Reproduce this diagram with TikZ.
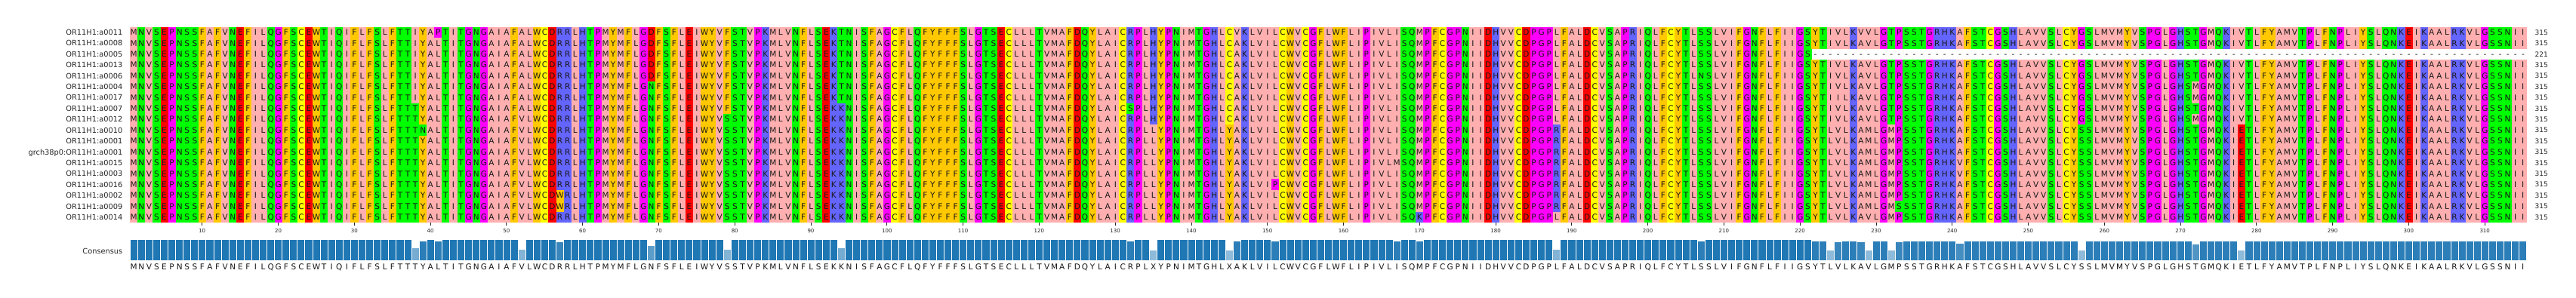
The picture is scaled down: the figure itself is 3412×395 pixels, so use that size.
\documentclass[tikz,border=0pt]{standalone}
\usepackage{fontspec}
\setmainfont{DejaVu Sans}
\usepackage{xcolor}
\usepackage{tikz}

% residue classes
\definecolor{aliphatic}{HTML}{FFAFAF}
\definecolor{aromatic}{HTML}{FFC800}
\definecolor{positive}{HTML}{6464FF}
\definecolor{negative}{HTML}{FF0000}
\definecolor{hydrophilic}{HTML}{00FF00}
\definecolor{special}{HTML}{FF00FF}
\definecolor{cysteine}{HTML}{FFFF00}
\definecolor{consbar}{HTML}{1F77B4}
\definecolor{inkgray}{HTML}{262626}
\colorlet{resA}{aliphatic}\colorlet{resI}{aliphatic}\colorlet{resL}{aliphatic}
\colorlet{resM}{aliphatic}\colorlet{resV}{aliphatic}
\colorlet{resF}{aromatic}\colorlet{resW}{aromatic}\colorlet{resY}{aromatic}
\colorlet{resH}{positive}\colorlet{resK}{positive}\colorlet{resR}{positive}
\colorlet{resD}{negative}\colorlet{resE}{negative}
\colorlet{resN}{hydrophilic}\colorlet{resQ}{hydrophilic}
\colorlet{resS}{hydrophilic}\colorlet{resT}{hydrophilic}
\colorlet{resG}{special}\colorlet{resP}{special}
\colorlet{resC}{cysteine}

\tikzset{
  seqline/.style={inner sep=0pt, anchor=base west, text=black!90, font=\fontsize{10.5}{10.5}\selectfont},
  seqname/.style={inner sep=0pt, anchor=base east, text=inkgray, font=\fontsize{9.8}{9.8}\selectfont},
  seqlen/.style={inner sep=0pt, anchor=base west, text=inkgray, font=\fontsize{9}{9}\selectfont},
  ticklabel/.style={inner sep=0pt, anchor=base, text=inkgray, font=\fontsize{7}{7}\selectfont},
}

% grid geometry (left edge, column width, first row top, row height)
\newcommand\gridx{172}
\newcommand\colw{10.078}
\newcommand\gridy{35.7}
\newcommand\rowh{14.41}

% walk through a sequence one residue at a time
\def\walkseq#1#2{\let\cellcmd=#1\expandafter\walkstep#2\relax}
\def\walkstep#1{\ifx#1\relax\else\cellcmd{#1}\expandafter\walkstep\fi}

% one coloured cell with its residue
\newcommand\rescell[1]{%
  \if#1-%
    \makebox[\colw pt]{-}%
  \else
    \rlap{\color{res#1}\rule[-3.7pt]{10.4pt}{14.7pt}}\makebox[\colw pt]{#1}%
  \fi}
\newcommand\conschar[1]{\makebox[\colw pt]{#1}}

\newcommand\seqrow[4]{%
  \pgfmathsetmacro\rowtop{\gridy+\rowh*(#1-1)}%
  \node[seqname] (name#1) at (162.5, \rowtop+10.8) {#2};
  \node[seqlen] (len#1) at (3357.5, \rowtop+10.5) {#3};
  \node[seqline] (seq#1) at (\gridx, \rowtop+11.0) {\walkseq\rescell{#4}};}

\begin{document}
\begin{tikzpicture}[x=1pt, y=-1pt]
  \useasboundingbox (0,0) rectangle (3412,395);
  \fill[white] (0,0) rectangle (3412,395);

  \seqrow{1}{OR11H1:a0011}{315}{MNVSEPNSSF AFVNEFILQG FSCEWTIQIF LFSLFTTIYA PTITGNGAIA FALWCDRRLH TPMYMFLGDF SFLEIWYVFS TVPKMLVNFL SEKTNISFAG CFLQFYFFFS LGTSECLLLT VMAFDQYLAI CRPLHYPNIM TGHLCVKLVI LCWVCGFLWF LIPIVLISQM PFCGPNIIDH VVCDPGPLFA LDCVSAPRIQ LFCYTLSSLV IFGNFLFIIG SYTIVLKVVL GTPSSTGRHK AFSTCGSHLA VVSLCYGSLM VMYVSPGLGH STGMQKIVTL FYAMVTPLFN PLIYSLQNKE IKAALRKVLG SSNII}
  \seqrow{2}{OR11H1:a0008}{315}{MNVSEPNSSF AFVNEFILQG FSCEWTIQIF LFSLFTTIYA LTITGNGAIA FALWCDRRLH TPMYMFLGDF SFLEIWYVFS TVPKMLVNFL SEKTNISFAG CFLQFYFFFS LGTSECLLLT VMAFDQYLAI CRPLHYPNIM TGHLCAKLVI LCWVCGFLWF LIPIVLISQM PFCGPNIIDH VVCDPGPLFA LDCVSAPRIQ LFCYTLSSLV IFGNFLFIIG SYTIVLKAVL GTPSSTGRHK AFSTCGSHLA VVSLCYGSLM VMYVSPGLGH STGMQKIVTL FYAMVTPLFN PLIYSLQNKE IKAALRKVLG SSNII}
  \seqrow{3}{OR11H1:a0005}{221}{MNVSEPNSSF AFVNEFILQG FSCEWTIQIF LFSLFTTIYA LTITGNGAIA FALWCDRRLH TPMYMFLGDF SFLEIWYVFS TVPKMLVNFL SEKTNISFAG CFLQFYFFFS LGTSECLLLT VMAFDQYLAI CRPLHYPNIM TGHLCAKLVI LCWVCGFLWF LIPIVLISQM PFCGPNIIDH VVCDPGPLFA LDCVSAPRIQ LFCYTLSSLV IFGNFLFIIG S--------- ---------- ---------- ---------- ---------- ---------- ---------- ---------- ---------- -----}
  \seqrow{4}{OR11H1:a0013}{315}{MNVSEPNSSF AFVNEFILQG FSCEWTIQIF LFSLFTTIYA LTITGNGAIA FALWCDRRLH TPMYMFLGDF SFLEIWYVFS TVPKMLVNFL SEKTNISFAG CFLQFYFFFS LGTSECLLLT VMAFDQYLAI CRPLHYPNIM TGHLCAKLVI LCWVCGFLWF LIPIVLISQM PFCGPNIIDH VVCDPGPLFA LDCVSAPRIQ LFCYTLSSLV IFGNFLFIIG SYTIVLKAVL GTPSSTGRHK AFSTCGSHLA VVSLCYGSLM VMYVSPGLGH STGMQKIVTL FYAMVTPLFN PLIYSLQNKE IKAALRKVLG SSNII}
  \seqrow{5}{OR11H1:a0006}{315}{MNVSEPNSSF AFVNEFILQG FSCEWTIQIF LFSLFTTIYA LTITGNGAIA FALWCDRRLH TPMYMFLGDF SFLEIWYVFS TVPKMLVNFL SEKTNISFAG CFLQFYFFFS LGTSECLLLT VMAFDQYLAI CRPLHYPNIM TGHLCAKLVI LCWVCGFLWF LIPIVLISQM PFCGPNIIDH VVCDPGPLFA LDCVSAPRIQ LFCYTLNSLV IFGNFLFIIG SYTIVLKAVL GTPSSTGRHK AFSTCGSHLA VVSLCYGSLM VMYVSPGLGH STGMQKIVTL FYAMVTPLFN PLIYSLQNKE IKAALRKVLG SSNII}
  \seqrow{6}{OR11H1:a0004}{315}{MNVSEPNSSF AFVNEFILQG FSCEWTIQIF LFSLFTTIYA LTITGNGAIA FALWCDRRLH TPMYMFLGNF SFLEIWYVFS TVPKMLVNFL SEKTNISFAG CFLQFYFFFS LGTSECLLLT VMAFDQYLAI CRPLHYPNIM TGHLCAKLVI LCWVCGFLWF LIPIVLISQM PFCGPNIIDH VVCDPGPLFA LDCVSAPRIQ LFCYTLSSLV IFGNFLFIIG SYTIVLKAVL GTPSSTGRHK AFSTCGSHLA VVSLCYGSLM VMYVSPGLGH SMGMQKIVTL FYAMVTPLFN PLIYSLQNKE IKAALRKVLG SSNII}
  \seqrow{7}{OR11H1:a0017}{315}{MNVSEPNSSF AFVNEFILQG FSCEWTIQIF LFSLFTTIYA LTITGNGAIA FALWCDRRLH TPMYMFLGNF SFLEIWYVFS TVPKMLVNFL SEKTNISFAG CFLQFYFFFS LGTSECLLLT VMAFDQYLAI CRPLHYPNIM TGHLCAKLVI LCWVCGFLWF LIPIVLISQM PFCGPNIIDH VVCDPGPLFA LDCVSAPRIQ LFCYTLSSLV IFGNFLFIIG SYTIILKAVL GTPSSTGRHK AFSTCGSHLA VVSLCYGSLM VMYVSPGLGH SMGMQKIVTL FYAMVTPLFN PLIYSLQNKE IKAALRKVLG SSNII}
  \seqrow{8}{OR11H1:a0007}{315}{MNVSEPNSSF AFVNEFILQG FSCEWTIQIF LFSLFTTTYA LTITGNGAIA FALWCDRRLH TPMYMFLGNF SFLEIWYVFS TVPKMLVNFL SEKKNISFAG CFLQFYFFFS LGTSECLLLT VMAFDQYLAI CSPLHYPNIM TGHLCAKLVI LCWVCGFLWF LIPIVLISQM PFCGPNIIDH VVCDPGPLFA LDCVSAPRIQ LFCYTLSSLV IFGNFLFIIG SYTIVLKAVL GTPSSTGRHK AFSTCGSHLA VVSLCYGSLM VMYVSPGLGH STGMQKIVTL FYAMVTPLFN PLIYSLQNKE IKAALRKVLG SSNII}
  \seqrow{9}{OR11H1:a0012}{315}{MNVSEPNSSF AFVNEFILQG FSCEWTIQIF LFSLFTTTYA LTITGNGAIA FVLWCDRRLH TPMYMFLGNF SFLEIWYVSS TVPKMLVNFL SEKKNISFAG CFLQFYFFFS LGTSECLLLT VMAFDQYLAI CRPLHYPNIM TGHLCAKLVI LCWVCGFLWF LIPIVLISQM PFCGPNIIDH VVCDPGPLFA LDCVSAPRIQ LFCYTLSSLV IFGNFLFIIG SYTIVLKAVL GTPSSTGRHK AFSTCGSHLA VVSLCYGSLM VMYVSPGLGH SMGMQKIVTL FYAMVTPLFN PLIYSLQNKE IKAALRKVLG SSNII}
  \seqrow{10}{OR11H1:a0010}{315}{MNVSEPNSSF AFVNEFILQG FSCEWTIQIF LFSLFTTTNA LTITGNGAIA FVLWCDRRLH TPMYMFLGNF SFLEIWYVSS TVPKMLVNFL SEKKNISFAG CFLQFYFFFS LGTSECLLLT VMAFDQYLAI CRPLLYPNIM TGHLYAKLVI LCWVCGFLWF LIPIVLISQM PFCGPNIIDH VVCDPGPRFA LDCVSAPRIQ LFCYTLSSLV IFGNFLFIIG SYTLVLKAML GMPSSTGRHK AFSTCGSHLA VVSLCYSSLM VMYVSPGLGH STGMQKIETL FYAMVTPLFN PLIYSLQNKE IKAALRKVLG SSNII}
  \seqrow{11}{OR11H1:a0001}{315}{MNVSEPNSSF AFVNEFILQG FSCEWTIQIF LFSLFTTTYA LTITGNGAIA FVLWCDRRLH TPMYMFLGNF SFLEIWYVSS TVPKMLVNFL SEKKNISFAG CFLQFYFFFS LGTSECLLLT VMAFDQYLAI CRPLLYPNIM TGHLYAKLVI LCWVCGFLWF LIPIVLISQM PFCGPNIIDH VVCDPGPRFA LDCVSAPRIQ LFCYTLSSLV IFGNFLFIIG SYTLVLKAML GMPSSTGRHK AFSTCGSHLA VVSLCYSSLM VMYVSPGLGH STGMQKIETL FYAMVTPLFN PLIYSLQNKE IKAALRKVLG SSNII}
  \seqrow{12}{grch38p0:OR11H1:a0001}{315}{MNVSEPNSSF AFVNEFILQG FSCEWTIQIF LFSLFTTTYA LTITGNGAIA FVLWCDRRLH TPMYMFLGNF SFLEIWYVSS TVPKMLVNFL SEKKNISFAG CFLQFYFFFS LGTSECLLLT VMAFDQYLAI CRPLLYPNIM TGHLYAKLVI LCWVCGFLWF LIPIVLISQM PFCGPNIIDH VVCDPGPRFA LDCVSAPRIQ LFCYTLSSLV IFGNFLFIIG SYTLVLKAML GMPSSTGRHK AFSTCGSHLA VVSLCYSSLM VMYVSPGLGH STGMQKIETL FYAMVTPLFN PLIYSLQNKE IKAALRKVLG SSNII}
  \seqrow{13}{OR11H1:a0015}{315}{MNVSEPNSSF AFVNEFILQG FSCEWTIQIF LFSLFTTTYA LTITGNGAIA FVLWCDRRLH TPMYMFLGNF SFLEIWYVSS TVPKMLVNFL SEKKNISFAG CFLQFYFFFS LGTSECLLLT VMAFDQYLAI CRPLLYPNIM TGHLYAKLVI LCWVCGFLWF LIPIVLMSQM PFCGPNIIDH VVCDPGPRFA LDCVSAPRIQ LFCYTLSSLV IFGNFLFIIG SYTLVLKAML GMPSSTGRHK VFSTCGSHLA VVSLCYSSLM VMYVSPGLGH STGMQKIETL FYAMVTPLFN PLIYSLQNKE IKAALRKVLG SSNII}
  \seqrow{14}{OR11H1:a0003}{315}{MNVSEPNSSF AFVNEFILQG FSCEWTIQIF LFSLFTTTYA LTITGNGAIA FVLWCDRRLH TPMYMFLGNF SFLEIWYVSS TVPKMLVNFL SEKKNISFAG CFLQFYFFFS LGTSECLLLT VMAFDQYLAI CRPLLYPNIM TGHLYAKLVI LCWVCGFLWF LIPIVLISQM PFCGPNIIDH VVCDPGPRFA LDCVSAPRIQ LFCYTLSSLV IFGNFLFIIG SYTLVLKAML GMPSSTGRHK VFSTCGSHLA VVSLCYSSLM VMYVSPGLGH STGMQKIETL FYAMVTPLFN PLIYSLQNKE IKAALRKVLG SSNII}
  \seqrow{15}{OR11H1:a0016}{315}{MNVSEPNSSF AFVNEFILQG FSCEWTIQIF LFSLFTTTYA LTITGNGAIA FVLWCDRRLH TPMYMFLGNF SFLEIWYVSS TVPKMLVNFL SEKKNISFAG CFLQFYFFFS LGTSECLLLT VMAFDQYLAI CRPLLYPNIM TGHLYAKLVI PCWVCGFLWF LIPIVLISQM PFCGPNIIDH VVCDPGPRFA LDCVSAPRIQ LFCYTLSSLV IFGNFLFIIG SYTLVLKAML GMPSSTGRHK AFSTCGSHLA VVSLCYSSLM VMYVSPGLGH STGMQKIETL FYAMVTPLFN PLIYSLQNKE IKAALRKVLG SSNII}
  \seqrow{16}{OR11H1:a0002}{315}{MNVSEPNSSF AFVNEFILQG FSCEWTIQIF LFSLFTTTYA LTITGNGAIA FVLWCDWRLH TPMYMFLGNF SFLEIWYVSS TVPKMLVNFL SEKKNISFAG CFLQFYFFFS LGTSECLLLT VMAFDQYLAI CRPLLYPNIM TGHLYAKLVI LCWVCGFLWF LIPIVLISQM PFCGPNIIDH VVCDPGPRFA LDCVSAPRIQ LFCYTLSSLV IFGNFLFIIG SYTLVLKAML GMPSSTGRHK AFSTCGSHLA VVSLCYSSLM VMYVSPGLGH STGMQKIETL FYAMVTPLFN PLIYSLQNKE IKAALRKVLG SSNII}
  \seqrow{17}{OR11H1:a0009}{315}{MNVSEPNSSF AFVNEFILQG FSCEWTIQIF LFSLFTTTYA LTITGNGAIA FVLWCDWRLH TPMYMFLGNF SFLEIWYVSS TVPKMLVNFL SEKKNISFAG CFLQFYFFFS LGTSECLLLT VMAFDQYLAI CRPLLYPNIM TGHLYAKLVI LCWVCGFLWF LIPIVLISQM PFCGPNIIDH VVCDPGPRFA LDCVSAPRIQ LFCYTLSSLV IFGNFLFIIG SYTLVLKAML GMSSSTGRHK AFSTCGSHLA VVSLCYSSLM VMYVSPGLGH STGMQKIETL FYAMVTPLFN PLIYSLQNKE IKAALRKVLG SSNII}
  \seqrow{18}{OR11H1:a0014}{315}{MNVSEPNSSF AFVNEFILQG FSCEWTIQIF LFSLFTTTYA LTITGNGAIA FVLWCDRRLH TPMYMFLGNF SFLEIWYVSS TVPKMLVNFL SEKKNISFAG CFLQFYFFFS LGTSECLLLT VMAFDQYLAI CRPLLYPNIM TGHLYAKLVI LCWVCGFLWF LIPIVLISQK PFCGPNIIDH VVCDPGPLFA LDCVSAPRIQ LFCYTLSSLV IFGNFLFIIG SYTLVLKAVL GMPSSTGRHK AFSTCGSHLA VVSLCYSSLM VMYVSPGLGH STGMQKIETL FYAMVTPLFN PLIYSLQNKE IKAALRKVLG SSNII}

  % position ticks
  \foreach \t in {10,20,...,310} {
    \pgfmathsetmacro\tx{\gridx+\colw*(\t-0.5)}
    \draw[inkgray, line width=0.8pt] (\tx, 295.1) -- (\tx, 299.3);
    \node[ticklabel] (tick\t) at (\tx, 308.2) {\t};
  }

  % consensus: columns that are not fully conserved (sequences agreeing, of 18)
  \foreach \c/\n in {38/11, 39/17, 41/17, 52/10, 57/16, 69/13, 79/10, 94/11,
      132/17, 135/9, 145/9, 146/17, 151/17, 167/17, 170/17, 188/10, 207/17,
      224/9, 225/16, 228/16, 229/9, 232/9, 233/16, 241/15, 257/9, 272/14, 278/9}
    {\expandafter\xdef\csname agree\c\endcsname{\n}}
  \foreach \c in {1,...,315} {
    \ifcsname agree\c\endcsname
      \edef\agree{\csname agree\c\endcsname}%
    \else
      \ifnum\c>221 \def\agree{17}\else\def\agree{18}\fi
    \fi
    \pgfmathsetmacro\cx{\gridx+\colw*(\c-1)}
    \pgfmathsetmacro\pct{100*\agree/18}
    \fill[consbar!\pct, draw=white, line width=0.6pt] (\cx, 345.5) rectangle ++(\colw, -28.2*\agree/18);
  }
  \node[seqname] (cons) at (162.5, 336.9) {Consensus};
  \node[seqline] (consseq) at (\gridx, 357.0) {\walkseq\conschar{MNVSEPNSSF AFVNEFILQG FSCEWTIQIF LFSLFTTTYA LTITGNGAIA FVLWCDRRLH TPMYMFLGNF SFLEIWYVSS TVPKMLVNFL SEKKNISFAG CFLQFYFFFS LGTSECLLLT VMAFDQYLAI CRPLXYPNIM TGHLXAKLVI LCWVCGFLWF LIPIVLISQM PFCGPNIIDH VVCDPGPLFA LDCVSAPRIQ LFCYTLSSLV IFGNFLFIIG SYTLVLKAVL GMPSSTGRHK AFSTCGSHLA VVSLCYSSLM VMYVSPGLGH STGMQKIETL FYAMVTPLFN PLIYSLQNKE IKAALRKVLG SSNII}};
\end{tikzpicture}
\end{document}
